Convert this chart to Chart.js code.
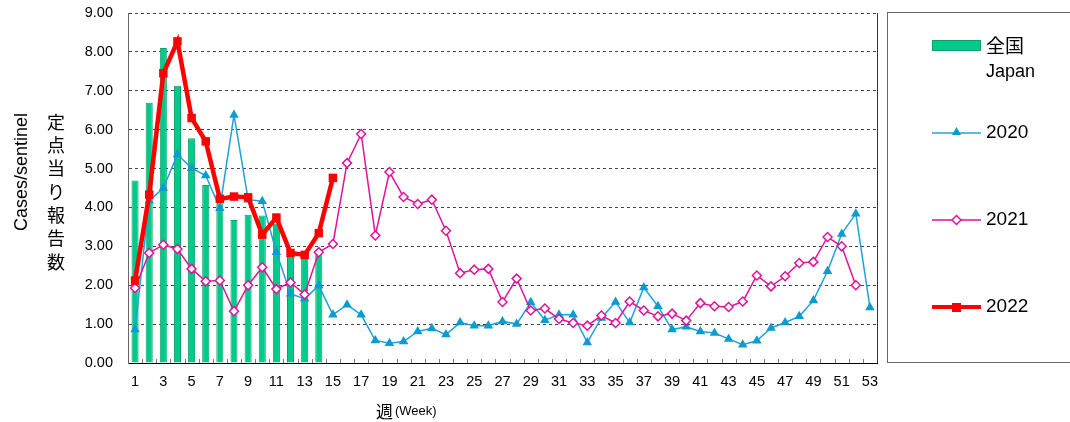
<!DOCTYPE html>
<html><head><meta charset="utf-8">
<script src="https://cdn.jsdelivr.net/npm/chart.js@4/dist/chart.umd.min.js"></script>
<style>html,body{margin:0;padding:0;background:#fff;}#wrap{width:1070px;height:422px;position:relative;}</style>
</head><body><div id="wrap"><canvas id="c" width="1070" height="422"></canvas></div>
<script>
const weeks = ['1','2','3','4','5','6','7','8','9','10','11','12','13','14','15','16','17','18','19','20','21','22','23','24','25','26','27','28','29','30','31','32','33','34','35','36','37','38','39','40','41','42','43','44','45','46','47','48','49','50','51','52','53'];
const japan2022 = [4.69,6.69,8.10,7.13,5.78,4.58,4.10,3.68,3.81,3.79,3.58,2.83,2.78,2.92];
const y2020 = [0.86,4.17,4.50,5.36,5.01,4.82,3.98,6.38,4.20,4.16,2.85,1.78,1.65,1.99,1.24,1.50,1.24,0.58,0.51,0.55,0.81,0.89,0.73,1.04,0.96,0.96,1.07,1.00,1.56,1.10,1.24,1.24,0.53,1.16,1.57,1.04,1.94,1.46,0.86,0.93,0.81,0.77,0.62,0.47,0.57,0.90,1.04,1.20,1.61,2.36,3.32,3.84,1.43];
const y2021 = [1.93,2.83,3.04,2.93,2.42,2.10,2.12,1.33,2.00,2.46,1.90,2.07,1.76,2.85,3.06,5.14,5.89,3.28,4.91,4.27,4.09,4.20,3.40,2.31,2.40,2.42,1.57,2.17,1.35,1.40,1.13,1.03,0.96,1.22,1.03,1.58,1.35,1.20,1.27,1.09,1.54,1.46,1.44,1.58,2.25,1.97,2.23,2.57,2.60,3.24,3.00,2.00];
const y2022 = [2.12,4.33,7.45,8.27,6.30,5.70,4.22,4.28,4.26,3.30,3.74,2.83,2.78,3.34,4.76];
const yTicks = [0,1,2,3,4,5,6,7,8,9];
const legendNames = ['全国','Japan','2020','2021','2022'];

const C_GREEN='#00c98d', C_GREEN_B='#10a060', C_BLUE='#0a9bd0', C_BLUE_L='#1ea3d8', C_PINK='#e0129b', C_RED='#ff0000';
const FONT='"Liberation Sans", Arial, sans-serif';

const deco = {
  id:'deco',
  afterDraw(chart){
    const ctx=chart.ctx, a=chart.chartArea;
    ctx.save();
    ctx.strokeStyle='#333'; ctx.lineWidth=1;
    ctx.beginPath(); ctx.moveTo(Math.round(a.right)+0.5,a.top); ctx.lineTo(Math.round(a.right)+0.5,a.bottom); ctx.stroke();
    ctx.strokeStyle='#666';
    ctx.beginPath(); ctx.moveTo(Math.round(a.left)+0.5,a.top); ctx.lineTo(Math.round(a.left)+0.5,a.bottom); ctx.stroke();
    ctx.strokeStyle='#777';
    const step=(a.right-a.left)/weeks.length;
    ctx.beginPath();
    for(let i=1;i<weeks.length;i++){const x=Math.round(a.left+i*step)+0.5;ctx.moveTo(x,a.bottom);ctx.lineTo(x,a.bottom-4);}
    ctx.stroke();
    ctx.fillStyle='#000';
    ctx.save(); ctx.translate(22,172); ctx.rotate(-Math.PI/2);
    ctx.font='18px '+FONT; ctx.textAlign='center'; ctx.textBaseline='middle';
    ctx.fillText('Cases/sentinel',0,0); ctx.restore();
    const jp='定点当り報告数';
    ctx.font='18px "Noto Sans CJK JP", sans-serif'; ctx.textAlign='center'; ctx.textBaseline='middle';
    for(let i=0;i<jp.length;i++){ctx.fillText(jp[i],56,122+i*23.3);}
    ctx.textBaseline='alphabetic'; ctx.textAlign='left';
    ctx.font='17px "Noto Sans CJK JP", sans-serif'; ctx.fillText('週',376,418);
    ctx.font='13px '+FONT; ctx.fillText('(Week)',395,415);
    ctx.strokeStyle='#666'; ctx.lineWidth=1;
    ctx.strokeRect(887.5,12.5,200,350);
    ctx.fillStyle=C_GREEN; ctx.fillRect(932,40,49,11);
    ctx.strokeStyle=C_GREEN_B; ctx.strokeRect(932.5,40.5,48,10);
    ctx.fillStyle='#000'; ctx.textBaseline='middle';
    ctx.font='19px "Noto Sans CJK JP", sans-serif'; ctx.fillText(legendNames[0],986,46);
    ctx.font='18px '+FONT; ctx.fillText(legendNames[1],986,72);
    ctx.strokeStyle=C_BLUE_L; ctx.lineWidth=1.5;
    ctx.beginPath(); ctx.moveTo(932,133); ctx.lineTo(981,133); ctx.stroke();
    ctx.fillStyle=C_BLUE; ctx.beginPath(); ctx.moveTo(956.5,127); ctx.lineTo(961,135); ctx.lineTo(952,135); ctx.closePath(); ctx.fill();
    ctx.fillStyle='#000'; ctx.font='19px '+FONT; ctx.fillText(legendNames[2],986,133);
    ctx.strokeStyle=C_PINK; ctx.lineWidth=1.5;
    ctx.beginPath(); ctx.moveTo(932,220); ctx.lineTo(952,220); ctx.moveTo(961,220); ctx.lineTo(981,220); ctx.stroke();
    ctx.fillStyle='#fff'; ctx.beginPath(); ctx.moveTo(956.5,215.5); ctx.lineTo(961,220); ctx.lineTo(956.5,224.5); ctx.lineTo(952,220); ctx.closePath(); ctx.fill(); ctx.stroke();
    ctx.fillStyle='#000'; ctx.fillText(legendNames[3],986,220);
    ctx.strokeStyle=C_RED; ctx.lineWidth=4;
    ctx.beginPath(); ctx.moveTo(932,307); ctx.lineTo(981,307); ctx.stroke();
    ctx.fillStyle=C_RED; ctx.fillRect(952,303,9,9);
    ctx.fillStyle='#000'; ctx.fillText(legendNames[4],986,307);
    ctx.restore();
  }
};

new Chart(document.getElementById('c'),{
  data:{
    labels:weeks,
    datasets:[
      {type:'line',label:'2022',data:y2022,borderColor:C_RED,backgroundColor:C_RED,borderWidth:4.5,pointStyle:'rect',pointRadius:6,pointBorderWidth:0,pointBackgroundColor:C_RED,order:1,tension:0},
      {type:'line',label:'2021',data:y2021,borderColor:C_PINK,backgroundColor:'#fff',borderWidth:1.5,pointStyle:'rectRot',pointRadius:4.5,pointBorderWidth:1.5,pointBackgroundColor:'#fff',pointBorderColor:C_PINK,order:2,tension:0},
      {type:'line',label:'2020',data:y2020,borderColor:C_BLUE_L,backgroundColor:C_BLUE,borderWidth:1.5,pointStyle:'triangle',pointRadius:5.5,pointBorderWidth:0,pointBackgroundColor:C_BLUE,order:3,tension:0},
      {type:'bar',label:'全国 Japan',data:japan2022,backgroundColor:C_GREEN,borderColor:C_GREEN_B,borderWidth:1,barPercentage:0.5,categoryPercentage:1,order:4}
    ]
  },
  options:{
    responsive:false,animation:false,
    layout:{padding:{left:0,right:193,top:13,bottom:0}},
    plugins:{legend:{display:false},tooltip:{enabled:false}},
    scales:{
      x:{offset:true,
        grid:{display:false,drawTicks:false},
        border:{display:true,color:'#000',width:1},
        ticks:{autoSkip:false,maxRotation:0,padding:10,color:'#000',font:{family:FONT,size:14.5},
          callback:function(v,i){return (i%2===0)?weeks[i]:'';}},
        afterFit(s){s.height=59;}
      },
      y:{min:0,max:9,
        afterBuildTicks(s){s.ticks=yTicks.map(v=>({value:v}));},
        grid:{color:'#444',lineWidth:1,drawTicks:false},
        border:{display:true,color:'#666',width:1,dash:[3,3]},
        ticks:{padding:15,color:'#000',font:{family:FONT,size:14.5},callback:v=>Number(v).toFixed(2)},
        afterFit(s){s.width=128;s.paddingTop=0;s.paddingBottom=0;}
      }
    }
  },
  plugins:[deco]
});
</script></body></html>
